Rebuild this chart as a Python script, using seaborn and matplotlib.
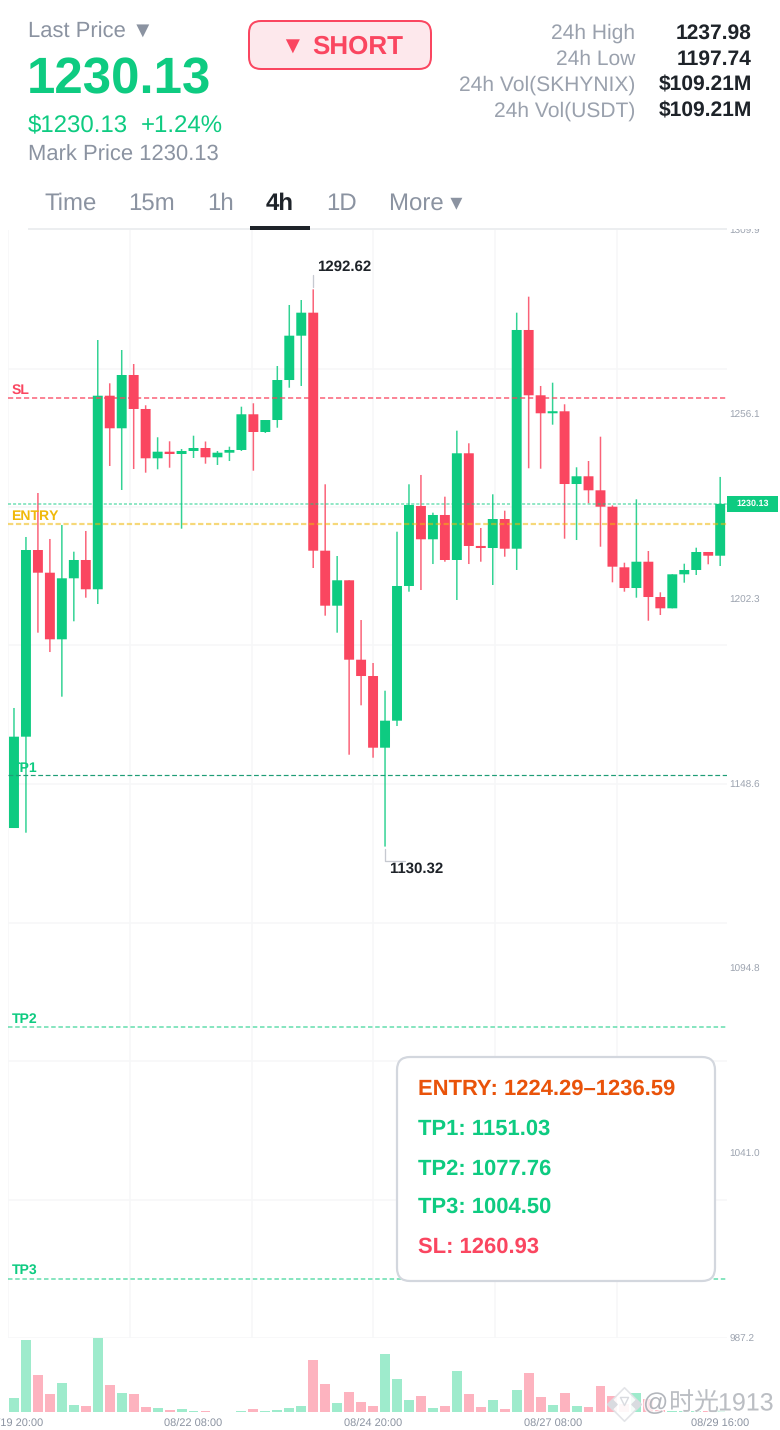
import matplotlib
matplotlib.use('Agg')
import matplotlib.pyplot as plt
import matplotlib.patheffects as pe
from matplotlib.patches import FancyBboxPatch, Rectangle
from matplotlib.transforms import blended_transform_factory
import pandas as pd
import seaborn as sns

# 4h candles
opens = [1135.73, 1162.33, 1216.70, 1210.09, 1190.69, 1208.46, 1213.79, 1205.26, 1261.64, 1252.15,
         1267.67, 1257.77, 1243.41, 1245.33, 1244.66, 1245.54, 1246.41, 1243.70, 1245.04, 1245.83,
         1256.23, 1251.07, 1254.56, 1266.21, 1279.12, 1285.82, 1216.50, 1200.48, 1207.88, 1184.75,
         1180.00, 1159.12, 1166.99, 1206.22, 1229.52, 1219.82, 1226.90, 1213.79, 1244.87, 1217.87,
         1217.28, 1225.73, 1217.08, 1280.78, 1261.76, 1256.52, 1257.10, 1235.92, 1238.17, 1234.09,
         1229.31, 1211.66, 1205.63, 1213.29, 1203.01, 1199.72, 1209.62, 1210.88, 1216.12, 1215.04]
closes = [1162.33, 1216.70, 1210.09, 1190.69, 1208.46, 1213.79, 1205.26, 1261.64, 1252.15, 1267.67,
          1257.77, 1243.41, 1245.33, 1244.66, 1245.54, 1246.41, 1243.70, 1245.04, 1245.83, 1256.23,
          1251.07, 1254.56, 1266.21, 1279.12, 1285.82, 1216.50, 1200.48, 1207.88, 1184.75, 1180.00,
          1159.12, 1166.99, 1206.22, 1229.81, 1219.82, 1226.90, 1213.79, 1244.87, 1217.87, 1217.28,
          1225.73, 1217.08, 1280.78, 1261.76, 1256.52, 1257.10, 1235.92, 1238.17, 1234.09, 1229.31,
          1211.84, 1205.63, 1213.29, 1203.01, 1199.72, 1209.62, 1210.88, 1216.12, 1215.04, 1230.13]
highs = [1170.69, 1220.49, 1233.30, 1219.91, 1223.99, 1216.21, 1222.24, 1277.86, 1265.25, 1274.95,
         1270.87, 1258.85, 1249.53, 1248.36, 1246.12, 1249.99, 1248.30, 1245.54, 1246.79, 1258.44,
         1259.43, 1254.56, 1270.29, 1288.06, 1289.51, 1292.62, 1235.84, 1214.95, 1207.88, 1196.31,
         1183.79, 1175.72, 1222.03, 1235.84, 1238.55, 1227.57, 1232.23, 1251.45, 1247.78, 1223.11,
         1232.92, 1228.15, 1285.82, 1290.48, 1264.47, 1265.43, 1259.14, 1240.79, 1242.62, 1249.70,
         1229.70, 1213.00, 1231.47, 1216.41, 1204.38, 1209.62, 1212.71, 1217.37, 1216.12, 1237.98]
lows = [1135.73, 1134.37, 1192.62, 1186.99, 1173.98, 1195.94, 1202.81, 1200.97, 1241.17, 1234.18,
        1240.29, 1239.22, 1240.21, 1240.67, 1222.91, 1243.50, 1241.84, 1241.46, 1242.62, 1245.54,
        1239.80, 1250.78, 1252.32, 1263.97, 1264.47, 1211.46, 1197.57, 1192.62, 1157.08, 1171.47,
        1156.21, 1130.32, 1165.44, 1204.56, 1205.05, 1212.62, 1213.29, 1202.14, 1212.62, 1213.29,
        1206.51, 1214.75, 1210.88, 1240.50, 1240.38, 1253.20, 1219.99, 1219.61, 1230.30, 1217.66,
        1207.29, 1204.56, 1202.81, 1196.11, 1197.77, 1199.72, 1207.18, 1209.42, 1212.54, 1212.04]
volumes = [14.3, 72.3, 36.7, 17.7, 29.3, 7.0, 6.3, 73.7, 26.7, 18.7,
           17.7, 5.3, 3.7, 1.7, 3.3, 1.3, 0.7, 0.3, 0.5, 1.3,
           2.7, 0.7, 2.3, 4.0, 5.7, 52.3, 28.3, 9.0, 19.7, 9.7,
           5.7, 57.7, 32.7, 12.3, 15.7, 4.3, 5.7, 41.0, 18.3, 4.7,
           11.7, 3.0, 22.0, 39.3, 15.3, 7.3, 19.3, 5.7, 4.7, 26.3,
           15.7, 8.0, 19.0, 13.0, 1.7, 0.7, 0.7, 1.0, 1.0, 2.3]

date_ticks = [0, 15, 30, 45, 59]
date_labels = ['08/19 20:00', '08/22 08:00', '08/24 20:00', '08/27 08:00', '08/29 16:00']
price_ticks = [1309.9, 1256.1, 1202.3, 1148.6, 1094.8, 1041.0, 987.2]
price_labels = ['1309.9', '1256.1', '1202.3', '1148.6', '1094.8', '1041.0', '987.2']
grid_prices = [1269.56, 1229.2, 1188.9, 1148.6, 1108.2, 1067.9, 1027.5, 987.2]
grid_idx = [-0.5, 9.69, 19.88, 30.0, 40.2, 50.4]

last_price = 1230.13
sl = 1260.93
entry_low = 1224.29
tp1 = 1151.03
tp2 = 1077.76
tp3 = 1004.50

GREEN = '#0ecb81'
RED = '#fa4660'
PALE_GREEN = '#9eebcc'
PALE_RED = '#fdb3bf'
GRAY = '#8b93a1'
DARK = '#1e2329'
AXIS_GRAY = '#9ca3af'
GRID = '#f6f7f8'

sns.set_theme(style='white')
plt.rcParams['font.family'] = ['Liberation Sans', 'DejaVu Sans']
plt.rcParams['text.hinting'] = 'no_hinting'
plt.rcParams['text.hinting_factor'] = 1

df = pd.DataFrame({'idx': range(len(opens)), 'open': opens, 'high': highs, 'low': lows,
                   'close': closes, 'volume': volumes})
df['up'] = df['close'] >= df['open']
df['bottom'] = df[['open', 'close']].min(axis=1)
df['height'] = (df['close'] - df['open']).abs()
df['side'] = df['up'].map({True: 'up', False: 'down'})
df['color'] = df['up'].map({True: GREEN, False: RED})

W, H = 780, 1430
fig = plt.figure(figsize=(W / 100, H / 100), dpi=100)
fig.patch.set_facecolor('white')
ax = fig.add_axes([8 / W, (H - 1338) / H, 719 / W, 1108 / H])
ax_vol = fig.add_axes([8 / W, (H - 1412) / H, 719 / W, 74 / H])
top = fig.add_axes([0, 0, 1, 1], zorder=5)
top.set_xlim(0, W)
top.set_ylim(H, 0)
top.axis('off')


def px(size):
    # sizes below are measured in image pixels
    return size * 72 / 100


# grid
for g in grid_prices:
    ax.axhline(g, color=GRID, lw=px(1.5), zorder=0)
for g in grid_idx:
    ax.axvline(g, color=GRID, lw=px(1.5), zorder=0)

# candles
ax.vlines(df['idx'], df['low'], df['high'], colors=df['color'], lw=px(1.5), alpha=0.85, zorder=2, snap=False)
bars = ax.bar(df['idx'], df['height'].clip(lower=0.6), bottom=df['bottom'], width=0.83,
              color=df['color'], linewidth=0, zorder=3)
for b in bars:
    b.set_snap(False)

# trade levels
level_kw = dict(zorder=4)
ax.axhline(sl, color=RED, alpha=0.65, lw=px(2), dashes=(2.6, 1.4), **level_kw)
ax.axhline(entry_low, color='#f0b90b', alpha=0.55, lw=px(2.2), dashes=(2.4, 1.2), **level_kw)
ax.axhline(last_price, color=GREEN, alpha=0.5, lw=px(1.8), dashes=(1.7, 1.1), **level_kw)
ax.axhline(tp1, color='#1f9d76', lw=px(1.2), dashes=(4, 2.2), **level_kw)
ax.axhline(tp2, color=GREEN, alpha=0.55, lw=px(1.8), dashes=(2.5, 1.5), **level_kw)
ax.axhline(tp3, color=GREEN, alpha=0.55, lw=px(1.8), dashes=(2.5, 1.5), **level_kw)

PX_PER_PRICE = 1108 / (1309.9 - 987.2)
PX_PER_IDX = 11.97
for name, level, col, dy in [('SL', sl, RED, 8), ('ENTRY', entry_low, '#f0b90b', 8),
                             ('TP1', tp1, GREEN, 7), ('TP2', tp2, GREEN, 8), ('TP3', tp3, GREEN, 8)]:
    ax.text(-0.5 + 3.5 / PX_PER_IDX, level + dy / PX_PER_PRICE, name, color=col, fontsize=px(14),
            fontweight='bold', va='center', ha='left', zorder=4)

# high / low callouts
hi_i = int(df['high'].idxmax())
lo_i = int(df['low'].idxmin())
hi = df['high'].max()
lo = df['low'].min()
ax.plot([hi_i, hi_i], [hi + 2 / PX_PER_PRICE, hi + 14 / PX_PER_PRICE], color='#c6c9d0', lw=px(1.3), zorder=4)
ax.text(hi_i + 4 / PX_PER_IDX, hi + 22 / PX_PER_PRICE, f'{hi:.2f}', color=DARK, fontsize=px(15),
        fontweight='bold', va='center', ha='left')
ax.plot([lo_i, lo_i, lo_i + 20 / PX_PER_IDX],
        [lo - 2 / PX_PER_PRICE, lo - 14 / PX_PER_PRICE, lo - 14 / PX_PER_PRICE],
        color='#c6c9d0', lw=px(1.3), zorder=4)
ax.text(lo_i + 4 / PX_PER_IDX, lo - 22.5 / PX_PER_PRICE, f'{lo:.2f}', color=DARK, fontsize=px(15),
        fontweight='bold', va='center', ha='left')

# price tag at the right edge
tag_tf = blended_transform_factory(ax.transAxes, ax.transData)
ax.add_patch(Rectangle((1.0, last_price - 8 / PX_PER_PRICE), 51 / 719, 16 / PX_PER_PRICE,
                       transform=tag_tf, facecolor=GREEN, edgecolor='none', clip_on=False, zorder=6))
ax.text(1.0 + 26 / 719, last_price, f'{last_price:.2f}', transform=tag_tf, color='white',
        fontsize=px(9.3), fontweight='bold', ha='center', va='center', zorder=7)

ax.set_xlim(-0.5, 59.57)
ax.set_ylim(987.2, 1309.9)
ax.set_xticks([])
ax.yaxis.tick_right()
ax.set_yticks(price_ticks, price_labels)
ax.tick_params(axis='y', length=0, pad=px(2.5), labelsize=px(10), labelcolor=AXIS_GRAY)
ax.grid(False)
sns.despine(ax=ax, left=True, right=True, top=True, bottom=True)

# volume
sns.barplot(data=df, x='idx', y='volume', hue='side', palette={'up': PALE_GREEN, 'down': PALE_RED},
            dodge=False, width=0.83, legend=False, linewidth=0, saturation=1, ax=ax_vol)
ax_vol.set_xlim(-0.5, 59.57)
ax_vol.set_ylim(0, 74)
ax_vol.set_xticks(date_ticks, date_labels)
ax_vol.set_yticks([])
ax_vol.set_xlabel('')
ax_vol.set_ylabel('')
ax_vol.tick_params(axis='x', length=0, pad=px(7), labelsize=px(11), labelcolor=GRAY)
ax_vol.patch.set_alpha(0)
sns.despine(ax=ax_vol, left=True, right=True, top=True, bottom=True)

# header block
top.add_patch(Rectangle((0, 0), W, 229, facecolor='white', edgecolor='none', zorder=0))


def label(x, y, s, size, color=GRAY, weight='normal', ha='left', **kw):
    # +2: centre of the text box sits a little above the glyphs
    top.text(x, y + 2, s, fontsize=px(size), color=color, fontweight=weight, ha=ha, va='center', **kw)


label(28, 30, 'Last Price ▼', 22)
label(27, 78, f'{last_price:.2f}', 51, GREEN, 'bold')
label(28, 124, f'${last_price:.2f}', 24, GREEN)
label(141, 124, '+1.24%', 24, GREEN)
label(28, 153, f'Mark Price {last_price:.2f}', 22)

top.add_patch(FancyBboxPatch((249, 21), 182, 48, boxstyle='round,pad=0,rounding_size=12',
                             facecolor='#fde8ec', edgecolor=RED, lw=px(2)))
label(280, 45, '▼', 24, RED, 'bold')
label(312, 45, 'SHORT', 26, RED, 'bold')

stat_names = ['24h High', '24h Low', '24h Vol(SKHYNIX)', '24h Vol(USDT)']
stat_values = ['1237.98', '1197.74', '$109.21M', '$109.21M']
stat_y = [31, 57, 83, 109]
for n, v, y in zip(stat_names, stat_values, stat_y):
    label(635, y, n, 21, '#9aa1ad', ha='right')
    label(752, y, v, 21, DARK, 'bold', ha='right')

tab_names = ['Time', '15m', '1h', '4h', '1D', 'More ▾']
tab_x = [44, 128, 207, 266, 326, 389]
for n, x in zip(tab_names, tab_x):
    active = n == '4h'
    label(x, 202, n, 24, DARK if active else GRAY, 'bold' if active else 'normal')
top.add_patch(Rectangle((28, 228), 699, 2, facecolor='#eceef0', edgecolor='none'))
top.add_patch(Rectangle((250, 226), 60, 4, facecolor=DARK, edgecolor='none'))

# levels panel
top.add_patch(FancyBboxPatch((397, 1057), 318, 224, boxstyle='round,pad=0,rounding_size=13',
                             facecolor='white', edgecolor='#d3d7de', lw=px(2.2)))
panel_text = ['ENTRY: 1224.29–1236.59', 'TP1: 1151.03', 'TP2: 1077.76', 'TP3: 1004.50', 'SL: 1260.93']
panel_col = ['#e9530a', GREEN, GREEN, GREEN, RED]
panel_y = [1087, 1127, 1167, 1205, 1245]
for s, c, y in zip(panel_text, panel_col, panel_y):
    label(418, y, s, 22, c, 'bold')

# watermark
halo = [pe.withStroke(linewidth=2, foreground='white', alpha=0.8)]
top.scatter([624], [1404], marker='D', s=290, facecolor='white', edgecolor='#e0e2e6', linewidth=1.2, alpha=0.9)
top.scatter([612, 636], [1404, 1404], marker='D', s=22, color='#d9dbe0')
top.scatter([624], [1401], marker='v', s=34, facecolor='white', edgecolor='#d9dbe0', linewidth=1)
top.text(643, 1404, '@', fontsize=px(25), color='#9a9ea6', alpha=0.7, va='center', ha='left', path_effects=halo)
top.text(669, 1403, '时光', fontsize=px(25), color='#a5a9b0', alpha=0.7, va='center', ha='left',
         family=['Noto Sans CJK SC', 'DejaVu Sans'], path_effects=halo)
top.text(718, 1404, '1913', fontsize=px(25), color='#a5a9b0', alpha=0.7, va='center', ha='left', path_effects=halo)

plt.savefig('out.png', dpi=100)
